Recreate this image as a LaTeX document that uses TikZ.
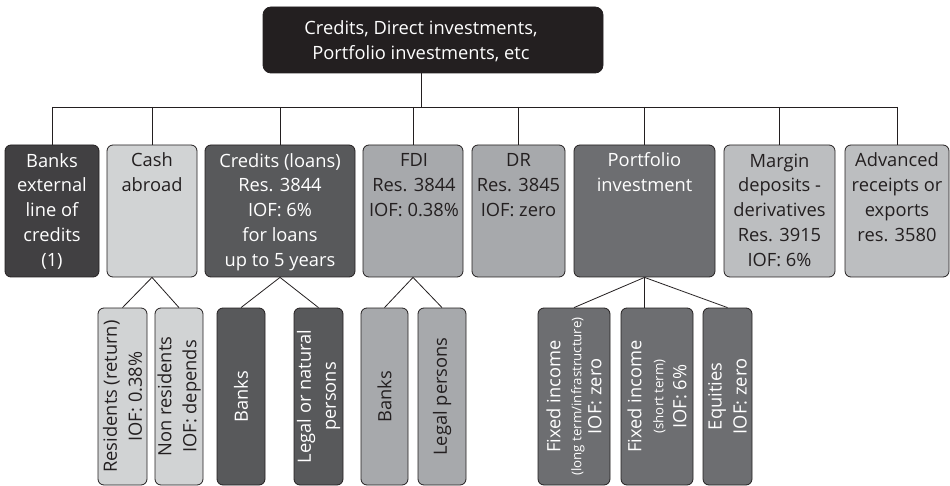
\documentclass[tikz,border=0pt]{standalone}
\usepackage{fontspec}
\setmainfont{Open Sans}
\definecolor{lineC}{HTML}{231F20}
\definecolor{topC}{HTML}{231F20}
\definecolor{bankC}{HTML}{414042}
\definecolor{lightC}{HTML}{D1D3D4}
\definecolor{credC}{HTML}{58595B}
\definecolor{midC}{HTML}{A7A9AC}
\definecolor{portC}{HTML}{6D6E71}
\definecolor{margC}{HTML}{BCBEC0}
\newcommand{\mainfs}{\fontsize{18.3}{25}\selectfont}
\newcommand{\smallfs}{\fontsize{13.3}{14}\selectfont}
\begin{document}
\begin{tikzpicture}[x=1pt,y=-1pt,
  box/.style={draw=lineC, line width=0.8pt, rounded corners=6pt, inner sep=0pt},
  lev1/.style={box, minimum height=132pt},
  lev2/.style={box, minimum height=177pt},
  wt/.style={text=white, font=\mainfs, align=center, inner sep=0pt},
  dt/.style={text=lineC, font=\mainfs, align=center, inner sep=0pt},
  conn/.style={draw=lineC, line width=0.8pt}]
\useasboundingbox (0,0) rectangle (950,486);

% top
\node[box, rounded corners=8pt, fill=topC, minimum width=340pt, minimum height=66pt] (top) at (433,40) {};
\node[wt, anchor=base] (top-t) at (421,60) {Credits, Direct investments,\\Portfolio investments, etc};

% level 1
\node[lev1, fill=bankC, minimum width=94pt] (bank) at (52,211) {};
\node[lev1, fill=lightC, minimum width=90pt] (cash) at (152,211) {};
\node[lev1, fill=credC, minimum width=150pt] (cred) at (280,211) {};
\node[lev1, fill=midC, minimum width=100pt] (fdi) at (413,211) {};
\node[lev1, fill=midC, minimum width=93pt] (dr) at (518.5,211) {};
\node[lev1, fill=portC, minimum width=141pt] (port) at (644.5,211) {};
\node[lev1, fill=margC, minimum width=111pt] (marg) at (779.5,211) {};
\node[lev1, fill=margC, minimum width=104pt] (adv) at (897,211) {};

% text nodes: anchor=base is the baseline of the last line (first line at y=167)
\node[wt, anchor=base] (bank-t) at (52,267) {Banks\\external\\line of\\credits\\(1)};
\node[dt, anchor=base] (cash-t) at (152,192) {Cash\\abroad};
\node[wt, anchor=base] (cred-t) at (280,267) {Credits (loans)\\Res. 3844\\IOF: 6\%\\for loans\\up to 5 years};
\node[dt, anchor=base] (fdi-t) at (414,217) {FDI\\Res. 3844\\IOF: 0.38\%};
\node[dt, anchor=base] (dr-t) at (518.5,217) {DR\\Res. 3845\\IOF: zero};
\node[wt, anchor=base] (port-t) at (644.5,192) {Portfolio\\investment};
\node[dt, anchor=base] (marg-t) at (779.5,267) {Margin\\deposits -\\derivatives\\Res. 3915\\IOF: 6\%};
\node[dt, anchor=base] (adv-t) at (897,242) {Advanced\\receipts or\\exports\\res. 3580};

% level 2
\node[lev2, fill=lightC, minimum width=49pt] (res) at (122.5,396.5) {};
\node[lev2, fill=lightC, minimum width=48pt] (nonres) at (179,396.5) {};
\node[lev2, fill=credC, minimum width=48pt] (cbanks) at (241,396.5) {};
\node[lev2, fill=credC, minimum width=49pt] (clegal) at (318.5,396.5) {};
\node[lev2, fill=midC, minimum width=47pt] (fbanks) at (384.5,396.5) {};
\node[lev2, fill=midC, minimum width=48pt] (flegal) at (442,396.5) {};
\node[lev2, fill=portC, minimum width=72pt] (fixl) at (574,396.5) {};
\node[lev2, fill=portC, minimum width=72pt] (fixs) at (657,396.5) {};
\node[lev2, fill=portC, minimum width=49pt] (eq) at (727.5,396.5) {};

\node[dt, rotate=90] (res-t) at (res.center) {Residents (return)\\IOF: 0.38\%};
\node[dt, rotate=90] (nonres-t) at (nonres.center) {Non residents\\IOF: depends};
\node[wt, rotate=90] (cbanks-t) at (cbanks.center) {Banks};
\node[wt, rotate=90] (clegal-t) at (clegal.center) {Legal or natural\\persons};
\node[dt, rotate=90] (fbanks-t) at (fbanks.center) {Banks};
\node[dt, rotate=90] (flegal-t) at (flegal.center) {Legal persons};
\node[wt, rotate=90] (fixl-t) at (fixl.center) {Fixed income\\[-4pt]{\smallfs (long term/infrastructure)}\\[-5pt]IOF: zero};
\node[wt, rotate=90] (fixs-t) at (fixs.center) {Fixed income\\[-3pt]{\smallfs (short term)}\\[-2pt]IOF: 6\%};
\node[wt, rotate=90] (eq-t) at (eq.center) {Equities\\IOF: zero};

% connectors: top to level 1
\coordinate (hub) at (421,107);
\draw[conn] (top.south -| hub) -- (hub);
\draw[conn] (hub -| bank.north) -- (hub -| adv.north);
\foreach \n in {bank,cash,cred,fdi,dr,port,marg,adv}
  \draw[conn] (hub -| \n.north) -- (\n.north);

% level 1 to level 2
\draw[conn] (cash.south) -- (res.north);
\draw[conn] (cash.south) -- (nonres.north);
\draw[conn] (cred.south) -- (cbanks.north);
\draw[conn] (cred.south) -- (clegal.north);
\draw[conn] (fdi.south) -- (fbanks.north);
\draw[conn] (fdi.south) -- (flegal.north);
\draw[conn] (port.south) -- (fixl.north);
\draw[conn] (port.south) -- (port.south |- fixs.north);
\draw[conn] (port.south) -- (eq.north);
\end{tikzpicture}
\end{document}
